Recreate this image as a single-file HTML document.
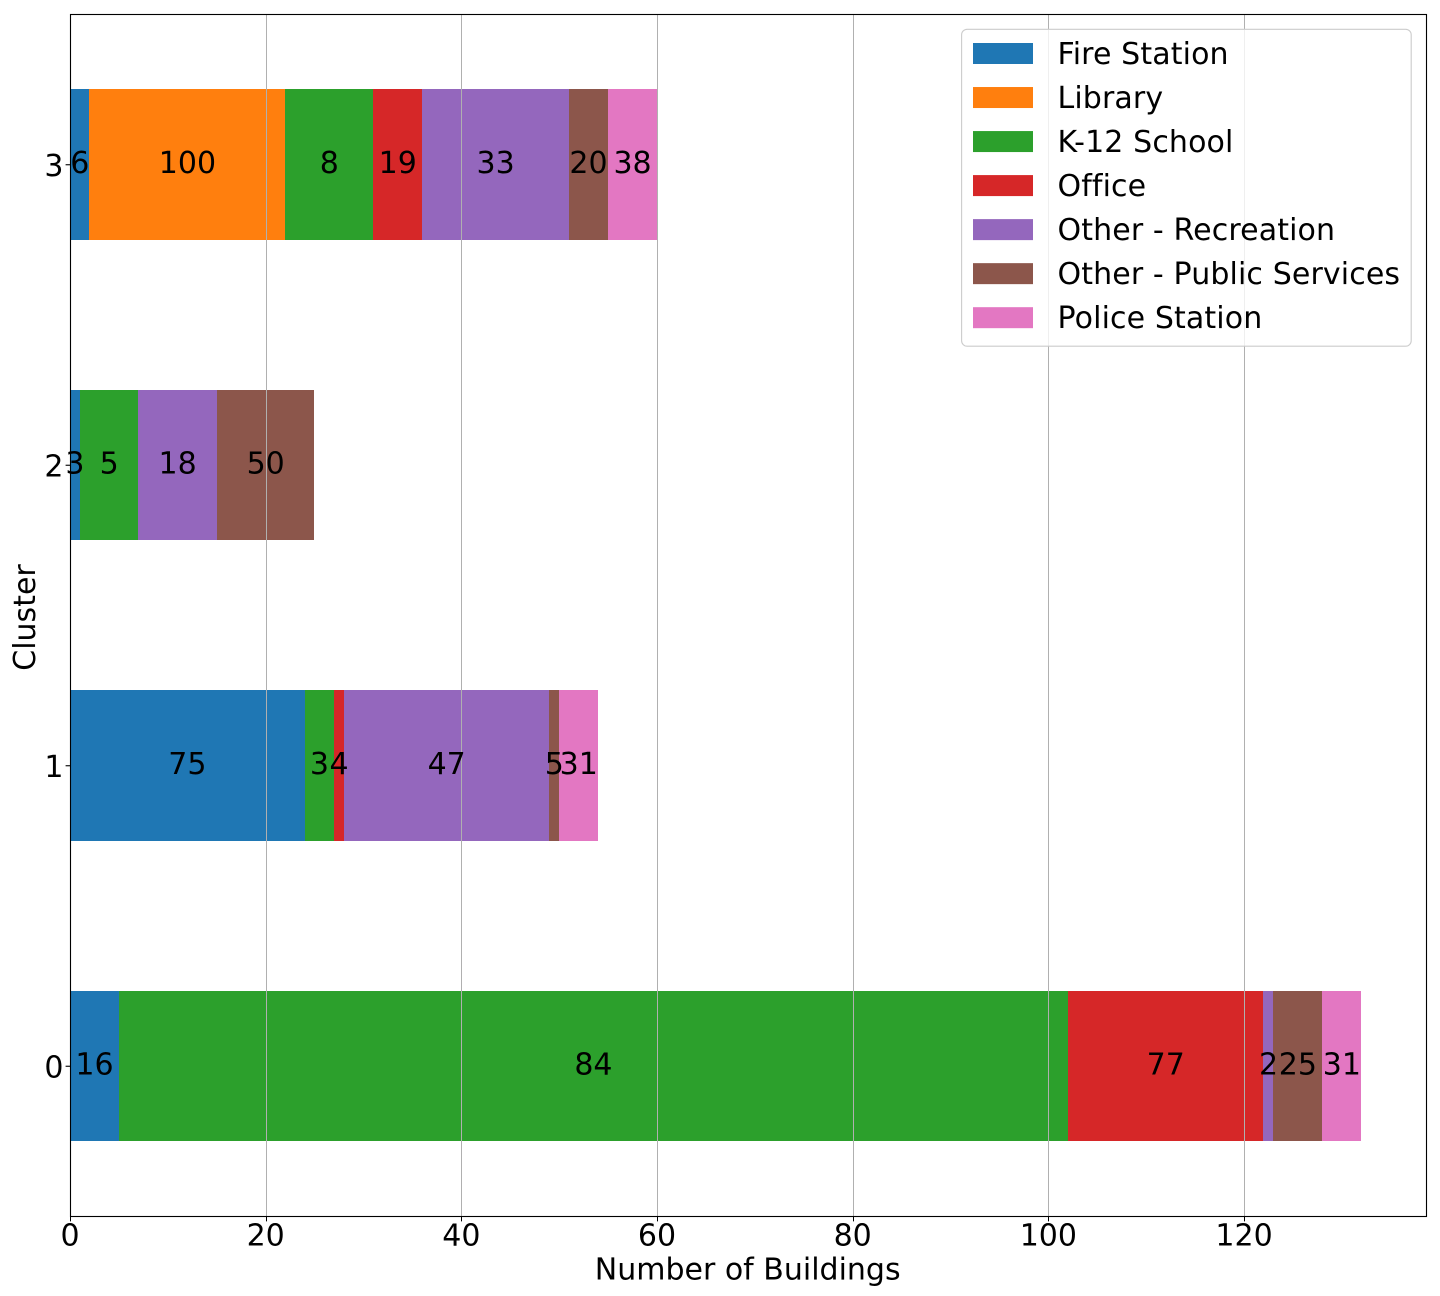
<!DOCTYPE html>
<html lang="en">
<head>
<meta charset="utf-8">
<title>Number of Buildings by Cluster</title>
<style>
  html, body { margin: 0; padding: 0; background: #fff; }
  svg { display: block; font-family: "DejaVu Sans", "Liberation Sans", sans-serif; }
  text { fill: #000; font-size: 30px; }
  #legend text { letter-spacing: 0.12px; }
</style>
</head>
<body>
<svg id="chart" xmlns="http://www.w3.org/2000/svg" width="1440" height="1296" viewBox="0 0 1440 1296">
  <g id="bars"></g>
  <g id="grid"></g>
  <g id="ticks"></g>
  <rect x="70.5" y="14.5" width="1356" height="1202" fill="none" stroke="#000" stroke-width="1.11"></rect>
  <g id="bar-labels"></g>
  <text x="747.7" y="1279.3" text-anchor="middle">Number of Buildings</text>
  <text transform="translate(35 617.5) rotate(-90)" text-anchor="middle">Cluster</text>
  <g id="legend"></g>
</svg>
<script>
// Chart data
const clusters = ["0", "1", "2", "3"];
const seriesNames = ["Fire Station", "Library", "K-12 School", "Office", "Other - Recreation", "Other - Public Services", "Police Station"];
const seriesColors = ["#1f77b4", "#ff7f0e", "#2ca02c", "#d62728", "#9467bd", "#8c564b", "#e377c2"];
const fireStation = [5, 24, 1, 2];
const library = [0, 0, 0, 20];
const k12School = [97, 3, 6, 9];
const office = [20, 1, 0, 5];
const otherRecreation = [1, 21, 8, 15];
const otherPublicServices = [5, 1, 10, 4];
const policeStation = [4, 4, 0, 5];
const xTicks = [0, 20, 40, 60, 80, 100, 120];

const seriesValues = [fireStation, library, k12School, office, otherRecreation, otherPublicServices, policeStation];

const NS = "http://www.w3.org/2000/svg";
const plot = { left: 70.5, right: 1426.5, top: 14.5, bottom: 1216.5 };
const barWidth = 0.5;

function make(tag, attrs, parent, text) {
  const el = document.createElementNS(NS, tag);
  for (const k in attrs) el.setAttribute(k, attrs[k]);
  if (text !== undefined) el.textContent = text;
  parent.appendChild(el);
  return el;
}

const stackTotals = clusters.map((_, c) => seriesValues.reduce((sum, s) => sum + s[c], 0));
const xMax = Math.max(...stackTotals) * 1.05;
const xScale = v => plot.left + (v / xMax) * (plot.right - plot.left);
const yScale = v => plot.bottom - ((v + 0.5) / clusters.length) * (plot.bottom - plot.top);

const barsG = document.getElementById("bars");
const labelsG = document.getElementById("bar-labels");
const gridG = document.getElementById("grid");
const ticksG = document.getElementById("ticks");
const legendG = document.getElementById("legend");

// Stacked bars, labelled with each cluster's share of the building type
clusters.forEach((cluster, c) => {
  let running = 0;
  seriesValues.forEach((values, s) => {
    const v = values[c];
    if (v <= 0) return;
    const total = values.reduce((a, b) => a + b, 0);
    const x0 = xScale(running);
    const x1 = xScale(running + v);
    const left = Math.floor(x0 - 0.2);
    const right = Math.floor(x1 - 0.2);
    const yTop = Math.floor(yScale(c + barWidth / 2));
    const yBottom = Math.round(yScale(c - barWidth / 2));
    const rect = make("rect", { x: left, y: yTop, width: right - left, height: yBottom - yTop, fill: seriesColors[s] }, barsG);
    
    
    const label = make("text", { x: (x0 + x1) / 2 - 0.5, y: yScale(c) + 8.4, "text-anchor": "middle" }, labelsG, String(Math.round(100 * v / total)));
    
    
    running += v;
  });
});

// X axis gridlines, ticks and labels
xTicks.forEach(t => {
  const x = xScale(t);
  const snapped = Math.floor(x) + 0.5;
  if (t > 0) {
    const gridLine = make("line", { x1: snapped, x2: snapped, y1: plot.top, y2: plot.bottom, stroke: "#b0b0b0", "stroke-width": 1 }, gridG);
    
    
  }
  const tick = make("line", { x1: snapped, x2: snapped, y1: plot.bottom, y2: plot.bottom + 4.9, stroke: "#000", "stroke-width": 1 }, ticksG);
  
  
  const tickLabel = make("text", { x: x - 0.5, y: 1245.7, "text-anchor": "middle" }, ticksG, String(t));
  
  
});

// Y axis ticks and labels
clusters.forEach((cluster, c) => {
  const y = yScale(c);
  const tick = make("line", { x1: plot.left - 4.9, x2: plot.left, y1: y, y2: y, stroke: "#000", "stroke-width": 1.11 }, ticksG);
  
  
  const tickLabel = make("text", { x: 63.5, y: y + 11.2, "text-anchor": "end" }, ticksG, cluster);
  
  
});

// Legend
const legendBox = make("rect", { x: 961.6, y: 29.3, width: 449.6, height: 316.9, rx: 5.5, ry: 5.5, fill: "#fff", "fill-opacity": 0.8, stroke: "#cccccc", "stroke-width": 1.11 }, legendG);


seriesNames.forEach((name, i) => {
  const rowY = 43 + i * 44.03;
  const swatch = make("rect", { x: 973, y: rowY, width: 60, height: 21, fill: seriesColors[i] }, legendG);
  
  
  const entry = make("text", { x: 1057.5, y: rowY + 21 }, legendG, name);
  
  
});
</script>
</body>
</html>
